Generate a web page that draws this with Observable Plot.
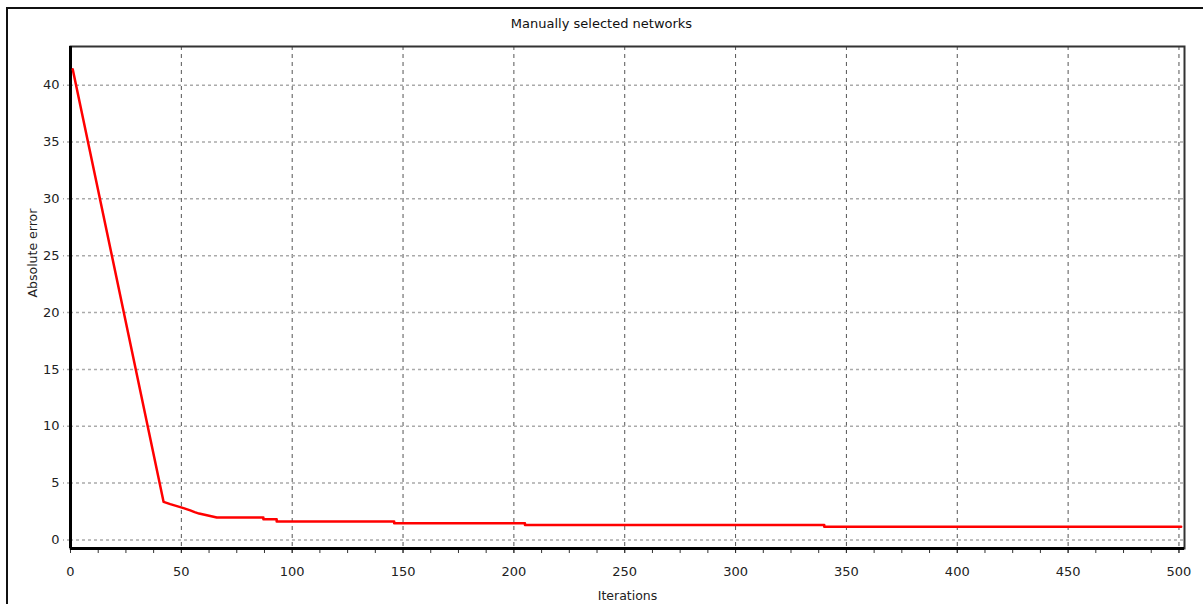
<!DOCTYPE html>
<html>
<head>
<meta charset="utf-8">
<script src="https://cdn.jsdelivr.net/npm/d3@7"></script>
<script src="https://cdn.jsdelivr.net/npm/@observablehq/plot@0.6"></script>
<style>
  html, body { margin: 0; padding: 0; background: #fff; }
  body { position: relative; width: 1203px; height: 604px; overflow: hidden; font-family: "DejaVu Sans", sans-serif; }
  #outer { position: absolute; left: 6px; top: 7px; width: 1197px; height: 597px; border-top: 2px solid #111; border-left: 2px solid #111; box-sizing: border-box; }
  #title { position: absolute; left: 0; top: 16px; width: 1203px; text-align: center; font-size: 13px; color: #111; }
  #chart { position: absolute; left: 0; top: 0; }
</style>
</head>
<body>
<div id="outer"></div>
<div id="title">Manually selected networks</div>
<div id="chart"></div>
<script>
const iterations = [1, 42, 45, 48, 51, 54, 56, 58, 62, 66, 87, 87, 93, 93, 146, 146, 205, 205, 340, 340, 501];
const absError   = [41.4, 3.35, 3.15, 2.98, 2.8, 2.6, 2.45, 2.32, 2.15, 1.97, 1.97, 1.82, 1.82, 1.62, 1.62, 1.46, 1.46, 1.32, 1.32, 1.17, 1.17];
const xTicks = [0, 50, 100, 150, 200, 250, 300, 350, 400, 450, 500];
const xMinorTicks = d3.range(0, 501, 12.5);
const yTicks = [0, 5, 10, 15, 20, 25, 30, 35, 40];
const xDomain = [0, 502.5];
const yDomain = [-0.75, 43.4];

const data = iterations.map((x, i) => ({x, y: absError[i]}));

const chart = Plot.plot({
  width: 1203,
  height: 604,
  marginLeft: 70,
  marginTop: 46,
  marginRight: 19,
  marginBottom: 56,
  style: {fontFamily: "DejaVu Sans, sans-serif", fontSize: "13px", color: "#222", background: "transparent"},
  x: {domain: xDomain},
  y: {domain: yDomain},
  marks: [
    Plot.gridX(xTicks, {stroke: "#555", strokeOpacity: 1, strokeDasharray: "4,4", strokeWidth: 1}),
    Plot.gridY(yTicks, {stroke: "#aaa", strokeOpacity: 1, strokeDasharray: "3,3", strokeWidth: 1.5}),
    Plot.axisY(yTicks, {tickSize: 7, tickPadding: 4, stroke: "#aaa", strokeDasharray: "3,3", strokeWidth: 1.5, label: null, fontSize: 13, fill: "#222"}),
    Plot.axisX(xMinorTicks, {tickSize: 5, text: null, label: null, stroke: "#333"}),
    Plot.axisX(xTicks, {tickSize: 5, tickPadding: 13, label: null, fontSize: 13, fill: "#222", stroke: "#333"}),
    Plot.text(["Absolute error"], {frameAnchor: "left", dx: -38, rotate: -90, fontSize: 12.5, fill: "#222"}),
    Plot.text(["Iterations"], {frameAnchor: "bottom", dy: 51, fontSize: 12.5, fill: "#222"}),
    Plot.frame({stroke: "#333", strokeWidth: 2}),
    Plot.ruleX([xDomain[0]], {stroke: "#000", strokeWidth: 3}),
    Plot.ruleY([yDomain[0]], {stroke: "#000", strokeWidth: 3}),
    Plot.line(data, {x: "x", y: "y", stroke: "#ff0000", strokeWidth: 2.5})
  ]
});
document.getElementById("chart").appendChild(chart);
</script>
</body>
</html>
